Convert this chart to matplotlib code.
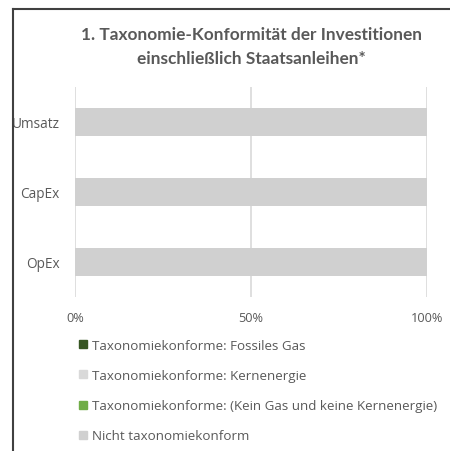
import matplotlib
matplotlib.use("Agg")
import matplotlib.pyplot as plt
from matplotlib.lines import Line2D

categories = ["Umsatz", "CapEx", "OpEx"]
series_names = [
    "Taxonomiekonforme: Fossiles Gas",
    "Taxonomiekonforme: Kernenergie",
    "Taxonomiekonforme: (Kein Gas und keine Kernenergie)",
    "Nicht taxonomiekonform",
]
fossil_gas = [0, 0, 0]
nuclear = [0, 0, 0]
aligned_other = [0, 0, 0]
not_aligned = [100, 100, 100]
series_values = [fossil_gas, nuclear, aligned_other, not_aligned]
series_colors = ["#375623", "#d9d9d9", "#70ad47", "#d0d0d0"]
tick_values = [0, 50, 100]
tick_labels = ["0%", "50%", "100%"]
title = "1. Taxonomie-Konformität der Investitionen\neinschließlich Staatsanleihen*"

plt.rcParams['font.family'] = ['Open Sans', 'DejaVu Sans']
W, H = 450, 452
fig = plt.figure(figsize=(W / 100, H / 100), dpi=100)
fig.patch.set_facecolor("white")

# axes: x 75..427, y 88..298 (pixels from top)
ax = fig.add_axes([75 / W, 1 - 298 / H, (427 - 75) / W, (298 - 88) / H])
ypos = list(range(len(categories)))
left = [0] * len(categories)
for vals, col, name in zip(series_values, series_colors, series_names):
    ax.barh(ypos, vals, left=left, height=0.39, color=col, label=name, zorder=2)
    left = [l + v for l, v in zip(left, vals)]

ax.set_ylim(len(categories) - 0.5, -0.5)
ax.set_xlim(0, 100)
ax.set_yticks(ypos)
ax.set_yticklabels(categories, color="#595959", fontsize=9.8)
ax.set_xticks(tick_values)
ax.set_xticklabels(tick_labels, color="#595959", fontsize=9.2)
ax.tick_params(axis="both", length=0)
ax.tick_params(axis="y", pad=11)
ax.tick_params(axis="x", pad=10)
ax.grid(axis="x", color="#d9d9d9", linewidth=1.2, zorder=0)
for s in ax.spines.values():
    s.set_visible(False)

fig.text(251 / W, 1 - 47 / H, title, ha="center", va="center",
         fontsize=12.4, fontweight="bold", color="#595959", linespacing=1.65,
         family=['Lato', 'DejaVu Sans'])

# legend
leg_handles = [Line2D([0], [0], marker="s", linestyle="none", markersize=6,
                      markerfacecolor=c, markeredgecolor=c) for c in series_colors]
leg = fig.legend(leg_handles, series_names, loc="upper left",
                 bbox_to_anchor=(78 / W, 1 - 339.5 / H), frameon=False,
                 fontsize=9.6, labelspacing=1.3, handlelength=0.8,
                 handletextpad=0.25, borderaxespad=0, borderpad=0)
for t in leg.get_texts():
    t.set_color("#595959")

# frame lines (left and top)
fig.add_artist(Line2D([12.5 / W, 12.5 / W], [0, 1 - 10 / H], color="#404040", lw=1.5,
                      transform=fig.transFigure))
fig.add_artist(Line2D([12.5 / W, 1], [1 - 10 / H, 1 - 10 / H], color="#404040", lw=1.5,
                      transform=fig.transFigure))

fig.savefig("out.png", dpi=100)
